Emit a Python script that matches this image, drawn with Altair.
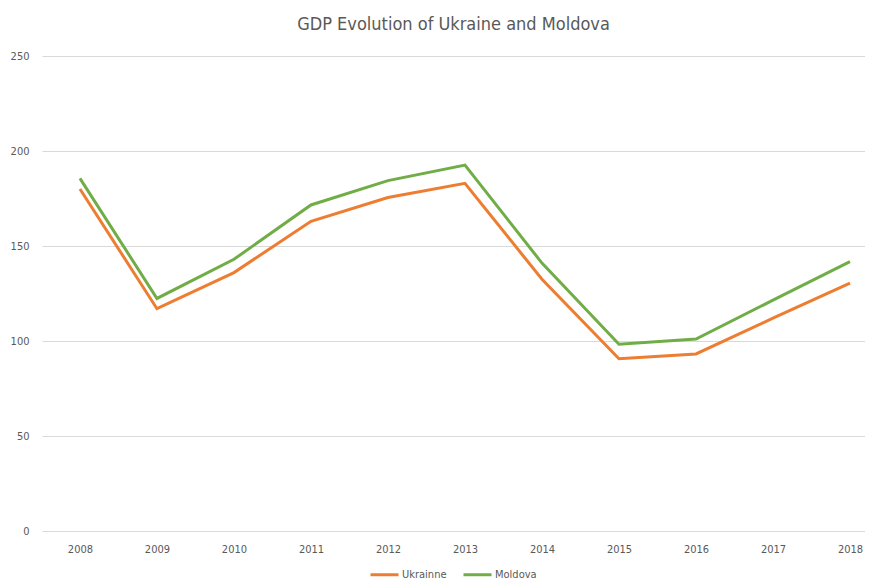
import altair as alt
import pandas as pd

years = [2008, 2009, 2010, 2011, 2012, 2013, 2014, 2015, 2016, 2017, 2018]
ukraine = [180, 117, 136, 163, 175.5, 183, 132.5, 90.7, 93.2, 112, 130.5]
moldova = [185.6, 122.4, 143, 171.6, 184.4, 192.6, 141, 98.3, 101, 121.5, 141.8]
series_names = ["Ukrainne", "Moldova"]
series_colors = ["#ED7D31", "#70AD47"]
y_ticks = [0, 50, 100, 150, 200, 250]

rows = []
for y, u, m in zip(years, ukraine, moldova):
    rows.append({"year": y, "value": u, "series": series_names[0]})
    rows.append({"year": y, "value": m, "series": series_names[1]})
df = pd.DataFrame(rows)

FONT = "DejaVu Sans Condensed, Liberation Sans, sans-serif"

chart = alt.Chart(df).mark_line(strokeWidth=3).encode(
    x=alt.X("year:Q",
            scale=alt.Scale(domain=[2007.507, 2018.195], nice=False, zero=False),
            axis=alt.Axis(values=years, format="d", title=None, grid=False,
                          ticks=False, domain=False, labelPadding=12,
                          labelFontSize=11, labelColor="#595959", labelFont=FONT)),
    y=alt.Y("value:Q",
            scale=alt.Scale(domain=[0, 250], nice=False),
            axis=alt.Axis(values=y_ticks, title=None, grid=True, gridColor="#D9D9D9",
                          gridWidth=1, ticks=False, domain=False, labelPadding=13,
                          labelFontSize=11, labelColor="#595959", labelFont=FONT)),
    color=alt.Color("series:N",
                    scale=alt.Scale(domain=series_names, range=series_colors),
                    sort=series_names,
                    legend=alt.Legend(title=None, orient="none", direction="horizontal",
                                      legendX=327, legendY=503, symbolType="stroke",
                                      symbolSize=784, symbolStrokeWidth=3,
                                      labelFontSize=11, labelColor="#595959",
                                      labelFont=FONT, padding=0, labelOffset=2,
                                      columnPadding=10)),
    order=alt.Order("year:Q"),
).properties(
    width=823,
    height=475,
    autosize=alt.AutoSizeParams(type="none"),
    padding={"left": 34, "top": 48, "right": 0, "bottom": 49},
    title=alt.TitleParams("GDP Evolution of Ukraine and Moldova", anchor="middle",
                          fontSize=18, font=FONT, fontWeight="normal",
                          color="#595959", offset=16),
).configure_view(stroke=None)

chart.save("out.html", embed_options={"renderer": "svg", "actions": False})
